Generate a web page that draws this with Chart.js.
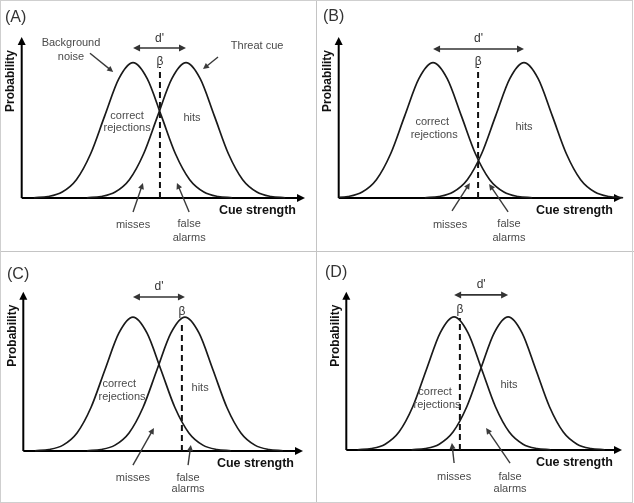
<!DOCTYPE html>
<html>
<head>
<meta charset="utf-8">
<script src="https://cdn.jsdelivr.net/npm/chart.js@4.4.1/dist/chart.umd.min.js"></script>
<style>
body { margin: 0; background: #fff; }
#wrap { position: relative; width: 634px; height: 503px; }
canvas { position: absolute; }
.rule { position: absolute; background: #c4c4c4; }
</style>
</head>
<body>
<div id="wrap">
  <canvas id="panelA" width="316" height="250" style="left:0;top:0"></canvas>
  <canvas id="panelB" width="315" height="250" style="left:317px;top:0"></canvas>
  <canvas id="panelC" width="316" height="252" style="left:0;top:250px"></canvas>
  <canvas id="panelD" width="315" height="252" style="left:317px;top:250px"></canvas>
  <div class="rule" style="left:316px;top:0;width:1px;height:503px"></div>
  <div class="rule" style="left:0;top:251px;width:634px;height:1px"></div>
  <div style="position:absolute;left:0;top:0;width:631px;height:501px;border:1px solid #cfcfcf"></div>
</div>
<script>
// shape of each distribution (offset from its mean, in sd units) and its height
const curveOffsets = [-3.5, -3, -2.5, -2, -1.5, -1, -0.5, 0, 0.5, 1, 1.5, 2, 2.5, 3, 3.5]
const curveHeights = [0.002, 0.011, 0.044, 0.135, 0.325, 0.607, 0.882, 1, 0.882, 0.607, 0.325, 0.135, 0.044, 0.011, 0.002]

const panelTags = ['(A)', '(B)', '(C)', '(D)']
const noiseMeans = [3.93, 3.33, 3.92, 3.91]
const signalMeans = [5.80, 6.54, 5.78, 5.87]
const criterionValues = [4.88, 4.92, 5.67, 4.12]

const canvasIds = ['panelA', 'panelB', 'panelC', 'panelD']
const panelPads = [
    { left: 21.7, right: 11, top: 37, bottom: 52 },
    { left: 21.7, right: 10, top: 37, bottom: 52 },
    { left: 23.3, right: 13, top: 41.7, bottom: 51 },
    { left: 29.3, right: 10, top: 41.7, bottom: 52 }
]

// annotation layout per panel, in data units
const panelNotes = [
    {
        tag: [5, 18], dY: 1.109, dLabelY: 1.175, betaY: 1.005, dashTop: 0.968,
        labels: [
            ['Background', 1.74, 1.146], ['noise', 1.74, 1.042], ['Threat cue', 8.31, 1.123],
            ['correct', 3.72, 0.606], ['rejections', 3.72, 0.517], ['hits', 6.01, 0.591],
            ['misses', 3.93, -0.2], ['false', 5.91, -0.192], ['alarms', 5.91, -0.296]
        ],
        arrows: [[2.41, 1.07, 3.23, 0.931], [6.93, 1.042, 6.40, 0.953], [3.93, -0.103, 4.28, 0.111], [5.91, -0.103, 5.48, 0.111]]
    },
    {
        tag: [6, 17], dY: 1.101, dLabelY: 1.175, betaY: 1.005, dashTop: 0.968,
        labels: [
            ['correct', 3.30, 0.562], ['rejections', 3.37, 0.466], ['hits', 6.54, 0.525],
            ['misses', 3.93, -0.2], ['false', 6.01, -0.192], ['alarms', 6.01, -0.296]
        ],
        arrows: [[4.00, -0.096, 4.63, 0.111], [5.98, -0.103, 5.31, 0.103]]
    },
    {
        tag: [7, 25], dY: 1.150, dLabelY: 1.225, betaY: 1.038, dashTop: 0.964,
        labels: [
            ['correct', 3.43, 0.5], ['rejections', 3.53, 0.403], ['hits', 6.32, 0.471],
            ['misses', 3.92, -0.202], ['false', 5.89, -0.202], ['alarms', 5.89, -0.284]
        ],
        arrows: [[3.92, -0.105, 4.67, 0.172], [5.89, -0.105, 5.99, 0.045]]
    },
    {
        tag: [8, 23], dY: 1.166, dLabelY: 1.241, betaY: 1.053, dashTop: 0.993,
        labels: [
            ['correct', 3.22, 0.436], ['rejections', 3.29, 0.338], ['hits', 5.90, 0.489],
            ['misses', 3.91, -0.203], ['false', 5.94, -0.203], ['alarms', 5.94, -0.293]
        ],
        arrows: [[3.91, -0.098, 3.83, 0.053], [5.94, -0.098, 5.07, 0.165]]
    }
]

const FONT = '"Liberation Sans", Arial, sans-serif'

function head(ctx, x1, y1, x2, y2, len, half) {
    const a = Math.atan2(y2 - y1, x2 - x1)
    const c = Math.cos(a), s = Math.sin(a)
    ctx.beginPath()
    ctx.moveTo(x2, y2)
    ctx.lineTo(x2 - len * c + half * s, y2 - len * s - half * c)
    ctx.lineTo(x2 - len * c - half * s, y2 - len * s + half * c)
    ctx.closePath()
    ctx.fill()
}

function arrow(ctx, x1, y1, x2, y2, both, len, half) {
    const a = Math.atan2(y2 - y1, x2 - x1)
    const c = Math.cos(a), s = Math.sin(a)
    ctx.beginPath()
    ctx.moveTo(both ? x1 + (len - 1) * c : x1, both ? y1 + (len - 1) * s : y1)
    ctx.lineTo(x2 - (len - 1) * c, y2 - (len - 1) * s)
    ctx.stroke()
    head(ctx, x1, y1, x2, y2, len, half)
    if (both) head(ctx, x2, y2, x1, y1, len, half)
}

const sketchPlugin = {
    id: 'sketch',
    beforeDatasetsDraw(chart) {
        const ctx = chart.ctx, a = chart.chartArea
        ctx.save()
        ctx.strokeStyle = '#000'
        ctx.fillStyle = '#000'
        ctx.lineWidth = 2
        arrow(ctx, a.left, a.bottom, a.left, a.top, false, 8, 4)
        arrow(ctx, a.left, a.bottom, a.right, a.bottom, false, 8, 4)
        ctx.restore()
    },
    afterDraw(chart, args, opts) {
        const ctx = chart.ctx, a = chart.chartArea
        const px = v => chart.scales.x.getPixelForValue(v)
        const py = v => chart.scales.y.getPixelForValue(v)
        const i = opts.index
        const n = panelNotes[i]
        ctx.save()

        // axis titles
        ctx.fillStyle = '#111'
        ctx.font = 'bold 12px ' + FONT
        ctx.textAlign = 'center'
        ctx.textBaseline = 'middle'
        ctx.save()
        ctx.translate(a.left - 11, a.top + 44)
        ctx.rotate(-Math.PI / 2)
        ctx.fillText('Probability', 0, 0)
        ctx.restore()
        ctx.font = 'bold 12.5px ' + FONT
        ctx.textAlign = 'right'
        ctx.fillText('Cue strength', a.right - 9, a.bottom + 13)

        // panel tag
        ctx.fillStyle = '#333'
        ctx.font = '16px ' + FONT
        ctx.textAlign = 'left'
        ctx.fillText(panelTags[i], n.tag[0], n.tag[1])

        // d' arrow, beta
        ctx.strokeStyle = '#333'
        ctx.fillStyle = '#333'
        ctx.lineWidth = 1.6
        arrow(ctx, px(noiseMeans[i]), py(n.dY), px(signalMeans[i]), py(n.dY), true, 7, 3.5)
        ctx.font = '12px ' + FONT
        ctx.textAlign = 'center'
        ctx.fillText("d'", px((noiseMeans[i] + signalMeans[i]) / 2), py(n.dLabelY))
        ctx.fillText('\u03B2', px(criterionValues[i]), py(n.betaY))

        // labels
        ctx.fillStyle = '#4a4a4a'
        ctx.font = '11px ' + FONT
        n.labels.forEach(([t, x, y]) => ctx.fillText(t, px(x), py(y)))

        // pointer arrows
        ctx.strokeStyle = '#3a3a3a'
        ctx.fillStyle = '#3a3a3a'
        ctx.lineWidth = 1.4
        n.arrows.forEach(([x1, y1, x2, y2]) => arrow(ctx, px(x1), py(y1), px(x2), py(y2), false, 6, 3))
        ctx.restore()
    }
}

const makePanel = i => {
    const noise = curveOffsets.map((o, k) => ({ x: noiseMeans[i] + o, y: curveHeights[k] }))
    const signal = curveOffsets.map((o, k) => ({ x: signalMeans[i] + o, y: curveHeights[k] }))
    const criterion = [{ x: criterionValues[i], y: 0 }, { x: criterionValues[i], y: panelNotes[i].dashTop }]

    const curveStyle = {
        borderColor: '#1a1a1a',
        borderWidth: 1.7,
        cubicInterpolationMode: 'monotone',
        pointRadius: 0,
        fill: false,
        clip: { left: 0, top: false, right: false, bottom: false }
    }

    const data = {
        datasets: [
            { data: noise, ...curveStyle },
            { data: signal, ...curveStyle },
            { data: criterion, borderColor: '#111', borderWidth: 2, borderDash: [6, 4], pointRadius: 0, tension: 0, clip: false }
        ]
    }

    const options = {
        responsive: false,
        animation: false,
        devicePixelRatio: 1,
        layout: { padding: panelPads[i] },
        plugins: {
            legend: { display: false },
            tooltip: { enabled: false },
            sketch: { index: i }
        },
        scales: {
            x: { type: 'linear', min: 0, max: 10, display: false },
            y: { type: 'linear', min: 0, max: 1.19, display: false }
        }
    }

    new Chart(canvasIds[i], { type: 'line', data, options, plugins: [sketchPlugin] })
}

panelTags.forEach((t, i) => makePanel(i))
</script>
</body>
</html>
